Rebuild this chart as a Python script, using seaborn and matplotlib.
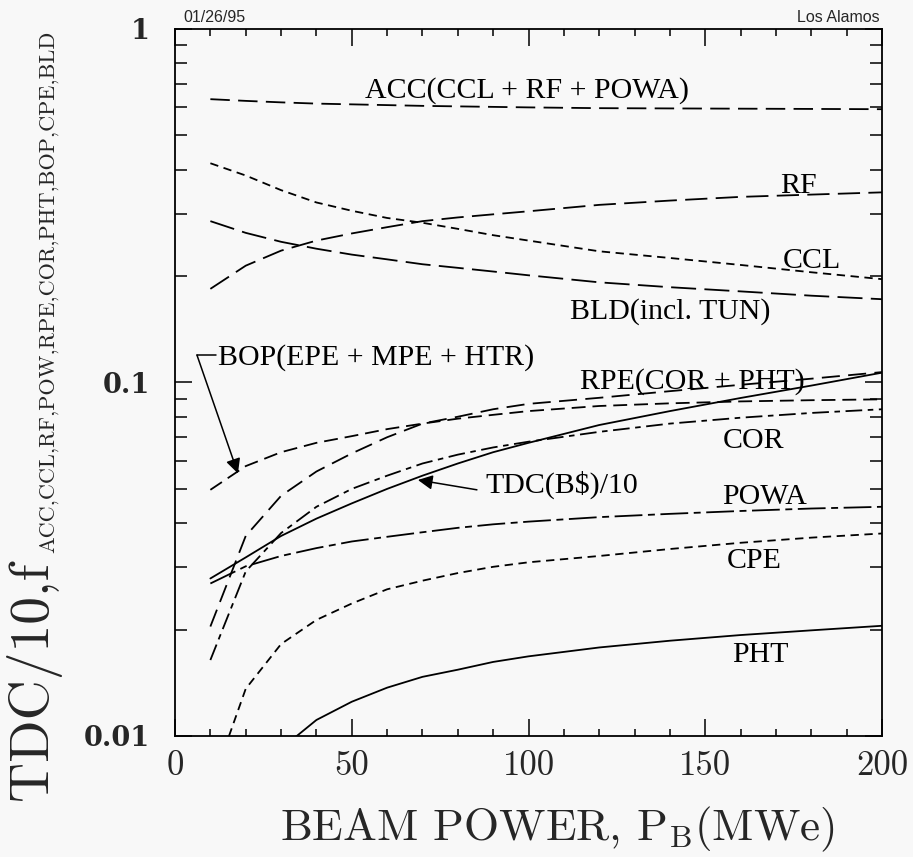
import numpy as np
import pandas as pd
import matplotlib
matplotlib.use("Agg")
import matplotlib.pyplot as plt
from matplotlib.ticker import LogLocator, NullFormatter, MultipleLocator
import seaborn as sns

# Beam power grid (MWe)
beam_power = [10, 20, 30, 40, 50, 60, 70, 80, 90, 100, 120, 140, 160, 180, 200]

# Cost fractions and TDC/10 versus beam power
acc = [0.633, 0.626, 0.620, 0.615, 0.612, 0.609, 0.606, 0.604, 0.602, 0.600, 0.597, 0.596, 0.595, 0.594, 0.593]
ccl = [0.417, 0.385, 0.350, 0.323, 0.306, 0.292, 0.283, 0.272, 0.261, 0.252, 0.235, 0.225, 0.215, 0.205, 0.196]
rf = [0.184, 0.214, 0.236, 0.252, 0.264, 0.275, 0.286, 0.293, 0.299, 0.305, 0.318, 0.327, 0.335, 0.340, 0.345]
bld = [0.286, 0.265, 0.250, 0.239, 0.230, 0.223, 0.216, 0.211, 0.206, 0.201, 0.192, 0.186, 0.181, 0.176, 0.172]
bop = [0.0497, 0.0580, 0.0635, 0.0675, 0.0705, 0.0738, 0.0765, 0.0790, 0.0810, 0.0830, 0.0858, 0.0873, 0.0884, 0.0891, 0.0896]
rpe = [0.0204, 0.0368, 0.0478, 0.0560, 0.0630, 0.0700, 0.0765, 0.0800, 0.0840, 0.0870, 0.0905, 0.0945, 0.0985, 0.1025, 0.1070]
cor = [0.0164, 0.0292, 0.0375, 0.0445, 0.0500, 0.0545, 0.0590, 0.0625, 0.0655, 0.0680, 0.0725, 0.0765, 0.0795, 0.0820, 0.0840]
tdc = [0.0279, 0.0320, 0.0368, 0.0412, 0.0455, 0.0500, 0.0545, 0.0590, 0.0635, 0.0675, 0.0758, 0.0830, 0.0904, 0.0980, 0.1066]
powa = [0.0270, 0.0302, 0.0323, 0.0340, 0.0355, 0.0366, 0.0377, 0.0388, 0.0397, 0.0404, 0.0416, 0.0425, 0.0433, 0.0440, 0.0445]
cpe = [0.0071, 0.0136, 0.0182, 0.0213, 0.0237, 0.0260, 0.0275, 0.0289, 0.0301, 0.0310, 0.0323, 0.0338, 0.0352, 0.0364, 0.0374]
pht = [0.0066, 0.0078, 0.0092, 0.0111, 0.0125, 0.0137, 0.0147, 0.0154, 0.0162, 0.0168, 0.0178, 0.0186, 0.0193, 0.0199, 0.0205]

series_names = ["ACC", "CCL", "RF", "BLD", "BOP", "RPE", "COR", "TDC", "POWA", "CPE", "PHT"]
series_values = [acc, ccl, rf, bld, bop, rpe, cor, tdc, powa, cpe, pht]

x_ticks = [0, 50, 100, 150, 200]
x_tick_labels = ["0", "50", "100", "150", "200"]
y_ticks = [0.01, 0.1, 1]
y_tick_labels = ["0.01", "0.1", "1"]

sns.set_style("ticks")
bg = "#f8f8f8"
plt.rcParams.update({
    "lines.scale_dashes": False,
    "mathtext.fontset": "cm",
    "axes.linewidth": 1.3,
    "font.family": ["Liberation Serif", "DejaVu Serif"],
})

df = pd.DataFrame({
    "power": np.tile(beam_power, len(series_names)),
    "frac": np.concatenate([np.asarray(v, dtype=float) for v in series_values]),
    "series": np.repeat(series_names, len(beam_power)),
})

dash_styles = {
    "ACC": (14, 6), "CCL": (6, 4), "RF": (16, 6), "BLD": (18, 6),
    "BOP": (10, 5), "RPE": (13, 6), "COR": (12, 4, 4, 4), "TDC": "",
    "POWA": (20, 4, 5, 4), "CPE": (6, 4), "PHT": "",
}

fig = plt.figure(figsize=(9.13, 8.57), dpi=100, facecolor=bg)
ax = fig.add_axes([0.1917, 0.1412, 0.7744, 0.8250])
ax.set_facecolor(bg)

sns.lineplot(data=df, x="power", y="frac", hue="series", style="series",
             palette={n: "black" for n in series_names}, dashes=dash_styles,
             estimator=None, legend=False, linewidth=1.3, ax=ax)

ax.set_yscale("log")
ax.set_xlim(0, 200)
ax.set_ylim(0.01, 1)
ax.set_xlabel("")
ax.set_ylabel("")

ax.set_xticks(x_ticks, labels=x_tick_labels, fontfamily="cmr10", fontsize=25)
ax.xaxis.set_minor_locator(MultipleLocator(10))
ax.set_yticks(y_ticks, labels=y_tick_labels, fontfamily="DejaVu Serif",
              fontweight="bold", fontsize=19.5)
ax.yaxis.set_minor_locator(LogLocator(base=10, subs=np.arange(2, 10)))
ax.yaxis.set_minor_formatter(NullFormatter())

ax.tick_params(which="both", direction="in", top=True, right=True,
               color="black", width=1.1)
ax.tick_params(axis="x", which="major", length=12, pad=10)
ax.tick_params(axis="x", which="minor", length=5)
ax.tick_params(axis="y", which="major", length=12, pad=18)
ax.tick_params(axis="y", which="minor", length=8.5)
for s in ax.spines.values():
    s.set_color("black")

# Curve labels
lab = dict(fontsize=21.5, color="black", ha="left", va="baseline")
ax.text(53.7, 0.638, "ACC(CCL + RF + POWA)", **lab)
ax.text(171.1, 0.344, "RF", **lab)
ax.text(172.0, 0.211, "CCL", **lab)
ax.text(111.7, 0.152, "BLD(incl. TUN)", **lab)
ax.text(12.2, 0.112, "BOP(EPE + MPE + HTR)", **lab)
ax.text(114.6, 0.0958, "RPE(COR + PHT)", **lab)
ax.text(155.0, 0.0653, "COR", **lab)
ax.text(87.7, 0.0487, "TDC(B$)/10", **lab)
ax.text(154.7, 0.0453, "POWA", **lab)
ax.text(156.2, 0.0299, "CPE", **lab)
ax.text(157.6, 0.0162, "PHT", **lab)

# Leader arrows
arrow = dict(arrowstyle="-|>", color="black", lw=1.1, mutation_scale=22,
             shrinkA=0, shrinkB=0)
ax.annotate("", xy=(68.7, 0.053), xytext=(85.4, 0.0497), arrowprops=arrow)
ax.plot([11.6, 6.2], [0.1196, 0.1196], color="black", lw=1.1)
ax.annotate("", xy=(17.8, 0.0553), xytext=(6.2, 0.1196), arrowprops=arrow)

# Header stamps
fig.text(183 / 913, 1 - 22 / 857, "01/26/95", fontsize=11.5,
         family="Liberation Sans", ha="left", va="baseline")
fig.text(880 / 913, 1 - 22 / 857, "Los Alamos", fontsize=11.5,
         family="Liberation Sans", ha="right", va="baseline")

# Axis titles
fig.text(557 / 913, 17 / 857, "BEAM POWER, P$_\\mathrm{B}$(MWe)",
         fontsize=32.5, family="cmr10", ha="center", va="baseline")
fig.text(47 / 913, 57 / 857, "TDC/10,f", fontsize=40, family="cmr10",
         rotation=90, rotation_mode="anchor", ha="left", va="baseline")
fig.text(54 / 913, 304 / 857, "ACC,CCL,RF,POW,RPE,COR,PHT,BOP,CPE,BLD",
         fontsize=16, family="cmr10", rotation=90, rotation_mode="anchor",
         ha="left", va="baseline")

fig.savefig("out.png", dpi=100, facecolor=bg)
